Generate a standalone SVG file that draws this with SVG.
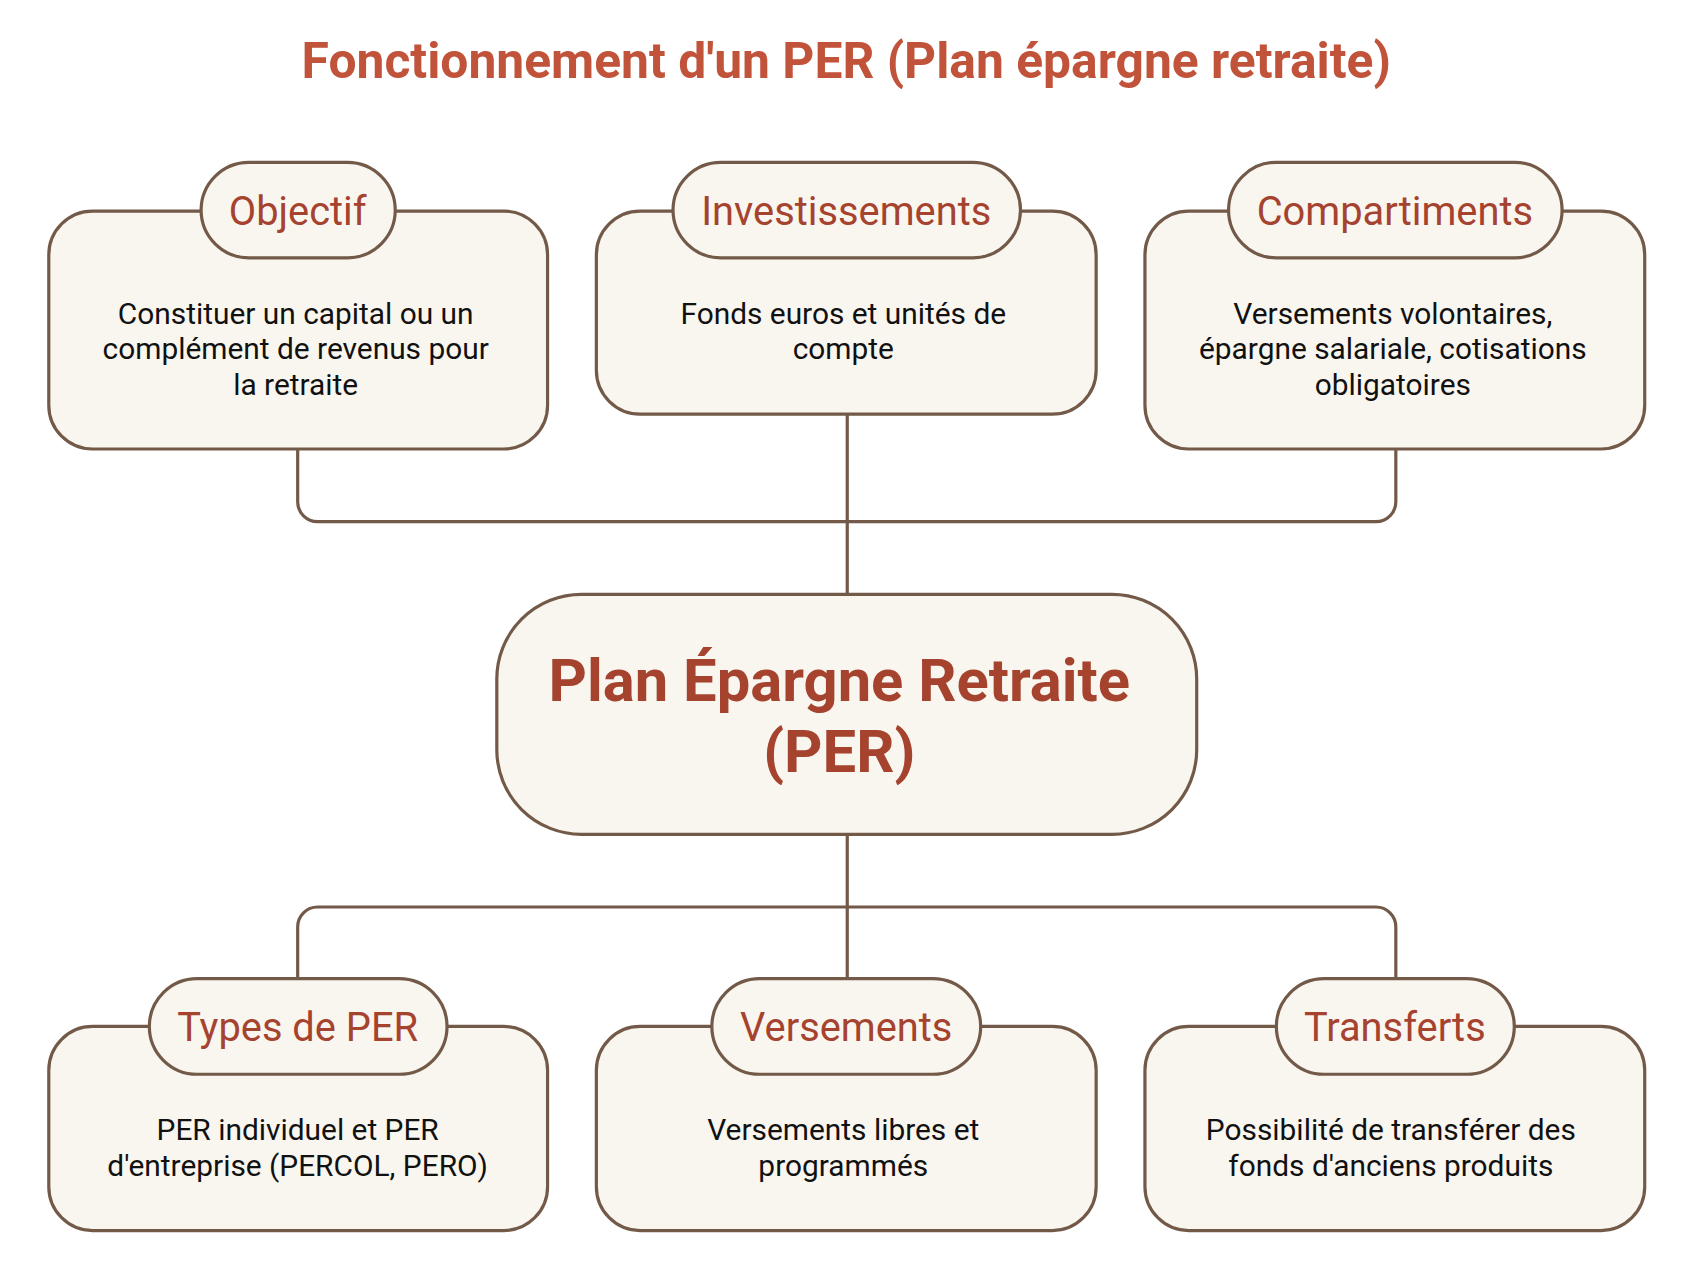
<svg xmlns="http://www.w3.org/2000/svg" width="1692" height="1282" viewBox="0 0 1692 1282">
<style>
.b{fill:#f9f6f0;stroke:#735a48;stroke-width:3.2}
.c{fill:none;stroke:#735a48;stroke-width:3.2}
.t{font-family:Roboto,"Liberation Sans",sans-serif;fill:#a5432f;font-size:40px;text-anchor:middle}
.d{font-family:Roboto,"Liberation Sans",sans-serif;fill:#111;font-size:30px;text-anchor:middle}
</style>
<rect width="1692" height="1282" fill="#fff"/>
<g transform="scale(0.9956)">
<text x="850" y="78" font-family="Roboto,'Liberation Sans',sans-serif" font-weight="bold" font-size="50" fill="#c0533a" text-anchor="middle">Fonctionnement d'un PER (Plan épargne retraite)</text>
<g id="connectors">
<path class="c" d="M299 451V504a20 20 0 0 0 20 20H1382a20 20 0 0 0 20-20V451M851 416V597"/>
<path class="c" d="M851 838V983M299 983V931a20 20 0 0 1 20-20H1382a20 20 0 0 1 20 20V983"/>
</g>
<g id="objectif"><rect class="b" x="49" y="212" width="501" height="239" rx="44"/><rect class="b" x="202" y="163" width="195" height="96" rx="48"/><text class="t" x="299" y="226">Objectif</text>
<text class="d" x="297" y="325">Constituer un capital ou un</text><text class="d" x="297" y="361">complément de revenus pour</text><text class="d" x="297" y="397">la retraite</text></g>
<g id="investissements"><rect class="b" x="599" y="212" width="502" height="204" rx="44"/><rect class="b" x="676" y="163" width="349" height="96" rx="48"/><text class="t" x="850" y="226">Investissements</text>
<text class="d" x="847" y="325">Fonds euros et unités de</text><text class="d" x="847" y="361">compte</text></g>
<g id="compartiments"><rect class="b" x="1150" y="212" width="502" height="239" rx="44"/><rect class="b" x="1234" y="163" width="335" height="96" rx="48"/><text class="t" x="1401" y="226">Compartiments</text>
<text class="d" x="1399" y="325">Versements volontaires,</text><text class="d" x="1399" y="361">épargne salariale, cotisations</text><text class="d" x="1399" y="397">obligatoires</text></g>
<g id="per"><rect class="b" x="499" y="597" width="703" height="241" rx="85"/>
<text x="843" y="704" font-family="Roboto,'Liberation Sans',sans-serif" font-weight="bold" font-size="60" fill="#a5432f" text-anchor="middle">Plan Épargne Retraite</text>
<text x="843" y="775" font-family="Roboto,'Liberation Sans',sans-serif" font-weight="bold" font-size="60" fill="#a5432f" text-anchor="middle">(PER)</text></g>
<g id="types"><rect class="b" x="49" y="1031" width="501" height="205" rx="44"/><rect class="b" x="150" y="983" width="299" height="96" rx="48"/><text class="t" x="299" y="1046">Types de PER</text>
<text class="d" x="299" y="1145">PER individuel et PER</text><text class="d" x="299" y="1181">d'entreprise (PERCOL, PERO)</text></g>
<g id="versements"><rect class="b" x="599" y="1031" width="502" height="205" rx="44"/><rect class="b" x="715" y="983" width="270" height="96" rx="48"/><text class="t" x="850" y="1046">Versements</text>
<text class="d" x="847" y="1145">Versements libres et</text><text class="d" x="847" y="1181">programmés</text></g>
<g id="transferts"><rect class="b" x="1150" y="1031" width="502" height="205" rx="44"/><rect class="b" x="1282" y="983" width="239" height="96" rx="48"/><text class="t" x="1401" y="1046">Transferts</text>
<text class="d" x="1397" y="1145">Possibilité de transférer des</text><text class="d" x="1397" y="1181">fonds d'anciens produits</text></g>
</g>
</svg>
